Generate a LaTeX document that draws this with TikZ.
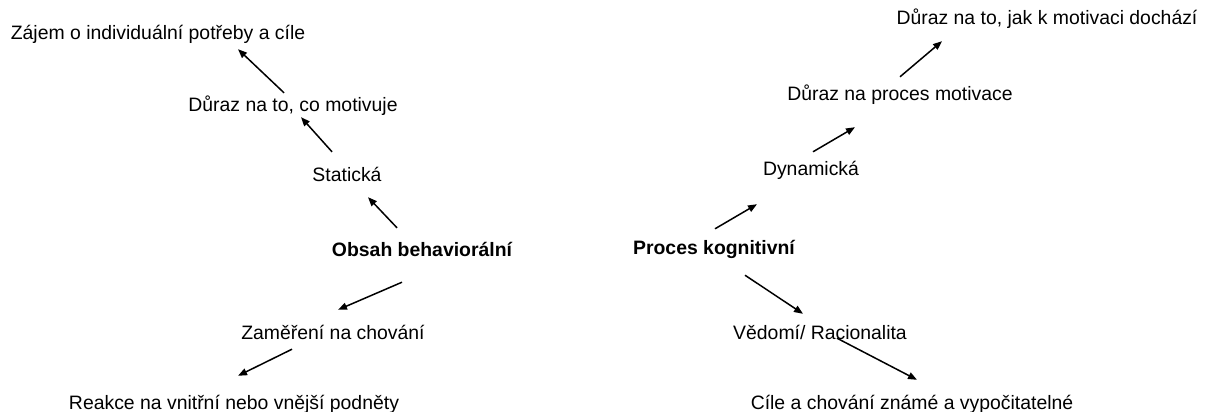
\documentclass[tikz,border=0pt]{standalone}
\usepackage{fontspec}
\setmainfont{Liberation Sans}
\usepackage{tikz}
\usetikzlibrary{calc, arrows.meta}
\tikzstyle{arrow} = [line width=1.5pt,-{Triangle[length=9pt,width=7pt]}]

\begin{document}
\begin{tikzpicture}[x=1pt,y=-1pt]
                    \tikzstyle{every node}=[font=\fontsize{19.4}{22}\selectfont]
                    \tikzstyle{label} = [anchor=base, inner sep=0pt, text height=14pt, text depth=4pt]
                    \tikzstyle{main} = [label, font=\fontsize{19.4}{22}\selectfont\bfseries]

                    \useasboundingbox[fill=white] (0,0) rectangle (1207,412);

                    % obsah
                    \node[main](obsah) at (422,256) {Obsah behaviorální};
                    \node[label](staticka) at (347,181) {Statická};
                    \node[label](durazco) at (293,111) {Důraz na to, co motivuje};
                    \node[label](zajem) at (158,40) {Zájem o individuální potřeby a cíle};
                    \node[label](zamereni) at (333,339) {Zaměření na chování};
                    \node[label](reakce) at (234,409) {Reakce na vnitřní nebo vnější podněty};

                    % proces
                    \node[main](proces) at (714,254) {Proces kognitivní};
                    \node[label](dynamicka) at (811,175) {Dynamická};
                    \node[label](durazproc) at (900,100) {Důraz na proces motivace};
                    \node[label](durazjak) at (1047,25) {Důraz na to, jak k motivaci dochází};
                    \node[label](vedomi) at (820,339) {Vědomí/ Racionalita};
                    \node[label](cile) at (912,409) {Cíle a chování známé a vypočitatelné};

                    \draw[arrow] ($(durazco.north)+(-9,-4)$) -- ($(zajem.south)+(80,5)$);
                    \draw[arrow] ($(staticka.north)+(-15,-15)$) -- ($(durazco.south)+(8,2)$);
                    \draw[arrow] ($(obsah.north)+(-25,-14)$) -- ($(staticka.south)+(21,12)$);
                    \draw[arrow] ($(obsah.south)+(-20,22)$) -- ($(zamereni.north)+(5,-15)$);
                    \draw[arrow] ($(zamereni.south)+(-41,6)$) -- ($(reakce.north)+(4,-19)$);

                    \draw[arrow] ($(proces.north)+(1,-11)$) -- ($(dynamicka.south)+(-54,25)$);
                    \draw[arrow] ($(dynamicka.north)+(2,-9)$) -- ($(durazproc.south)+(-45,23)$);
                    \draw[arrow] ($(durazproc.north)+(0,-9)$) -- ($(durazjak.south)+(-105,12)$);
                    \draw[arrow] ($(proces.south)+(31,17)$) -- ($(vedomi.north)+(-17,-11)$);
                    \draw[arrow] ($(vedomi.south)+(17,-5)$) -- ($(cile.north)+(5,-15)$);
            \end{tikzpicture}
\end{document}
